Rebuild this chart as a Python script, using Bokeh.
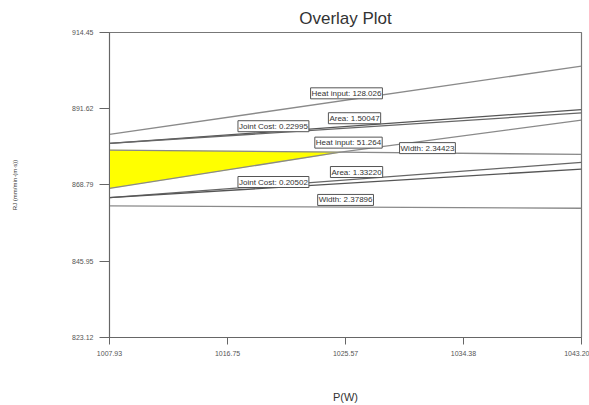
from bokeh.plotting import figure
from bokeh.models import FixedTicker, Label, Range1d
from bokeh.embed import file_html
from bokeh.resources import INLINE

# ---- data ----
x_ticks = [1007.93, 1016.75, 1025.57, 1034.38, 1043.20]
x_tick_labels = ["1007.93", "1016.75", "1025.57", "1034.38", "1043.20"]
y_ticks = [823.12, 845.95, 868.79, 891.62, 914.45]
y_tick_labels = ["823.12", "845.95", "868.79", "891.62", "914.45"]

# contour lines (x, y) polylines
heat_128_x = [1007.93, 1043.20]
heat_128_y = [883.92, 904.39]
area_150_x = [1007.93, 1043.20]
area_150_y = [881.23, 891.38]
jc_229_x = [1007.93, 1043.20]
jc_229_y = [881.23, 890.36]
heat_51_x = [1007.93, 1025.19, 1043.20]
heat_51_y = [879.23, 878.60, 877.95]
width_234_x = [1007.93, 1025.19, 1043.20]
width_234_y = [867.80, 878.60, 888.19]
area_133_x = [1007.93, 1043.20]
area_133_y = [865.00, 875.56]
jc_205_x = [1007.93, 1043.20]
jc_205_y = [865.00, 873.56]
width_237_x = [1007.93, 1043.20]
width_237_y = [862.52, 861.83]

label_texts = ["Heat input: 128.026", "Joint Cost: 0.22995", "Area: 1.50047",
               "Heat input: 51.264", "Width: 2.34423", "Area: 1.33220",
               "Joint Cost: 0.20502", "Width: 2.37896"]
label_x = [1025.64, 1020.18, 1026.24, 1025.79, 1031.69, 1026.39, 1020.18, 1025.57]
label_y = [896.24, 886.39, 888.78, 881.47, 879.83, 872.67, 869.68, 864.31]

FONT = "Liberation Sans"

p = figure(width=589, height=405, output_backend="svg", toolbar_location=None,
           x_range=Range1d(x_ticks[0], x_ticks[-1]),
           y_range=Range1d(y_ticks[0], y_ticks[-1]),
           min_border_left=109, min_border_right=8,
           min_border_top=32, min_border_bottom=67,
           title="Overlay Plot")
p.title.align = "center"
p.title.text_font = FONT
p.title.text_font_size = "17px"
p.title.text_font_style = "normal"
p.title.text_color = "#333333"
p.title.standoff = 10

p.xgrid.visible = False
p.ygrid.visible = False
p.outline_line_color = "#777777"
p.outline_line_width = 1.2

# feasible (yellow) region between Heat input 51.264 (top) and Width 2.34423 (bottom)
p.patch(x=[heat_51_x[0], heat_51_x[1], width_234_x[0]],
        y=[heat_51_y[0], heat_51_y[1], width_234_y[0]],
        fill_color="#ffff00", line_color="#e6e600", line_width=0.5)

lines = [
    (heat_128_x, heat_128_y, "#8a8a8a"),
    (area_150_x, area_150_y, "#555555"),
    (jc_229_x, jc_229_y, "#666666"),
    (heat_51_x, heat_51_y, "#8a8a8a"),
    (width_234_x, width_234_y, "#8a8a8a"),
    (area_133_x, area_133_y, "#666666"),
    (jc_205_x, jc_205_y, "#555555"),
    (width_237_x, width_237_y, "#8a8a8a"),
]
for xs, ys, col in lines:
    p.line(xs, ys, line_color=col, line_width=1.3)

for t, lx, ly in zip(label_texts, label_x, label_y):
    p.add_layout(Label(x=lx, y=ly, text=t, text_align="center", text_baseline="middle",
                       text_font=FONT, text_font_size="8px", text_color="#333333",
                       background_fill_color="white", border_line_color="#555555",
                       border_line_width=1, padding=1))

p.xaxis.ticker = FixedTicker(ticks=x_ticks)
p.xaxis.major_label_overrides = {v: s for v, s in zip(x_ticks, x_tick_labels)}
p.yaxis.ticker = FixedTicker(ticks=y_ticks)
p.yaxis.major_label_overrides = {v: s for v, s in zip(y_ticks, y_tick_labels)}

for ax in (p.xaxis[0], p.yaxis[0]):
    ax.axis_line_color = "#666666"
    ax.major_tick_line_color = "#666666"
    ax.minor_tick_line_color = None
    ax.major_tick_in = 0
    ax.major_label_text_font = FONT
    ax.major_label_text_font_size = "7px"
    ax.major_label_text_color = "#555555"
    ax.axis_label_text_font = FONT
    ax.axis_label_text_font_style = "normal"
    ax.axis_label_text_color = "#333333"

p.xaxis.major_tick_out = 7
p.yaxis.major_tick_out = 10
p.xaxis.major_label_standoff = 6
p.yaxis.major_label_standoff = 6

p.xaxis.axis_label = "P(W)"
p.xaxis.axis_label_text_font_size = "11px"
p.xaxis.axis_label_standoff = 32

p.yaxis.axis_label = "RJ (mm/min·(m·s))"
p.yaxis.axis_label_text_font_size = "6px"
p.yaxis.axis_label_standoff = 51

open("out.html", "w").write(file_html(p, INLINE))
